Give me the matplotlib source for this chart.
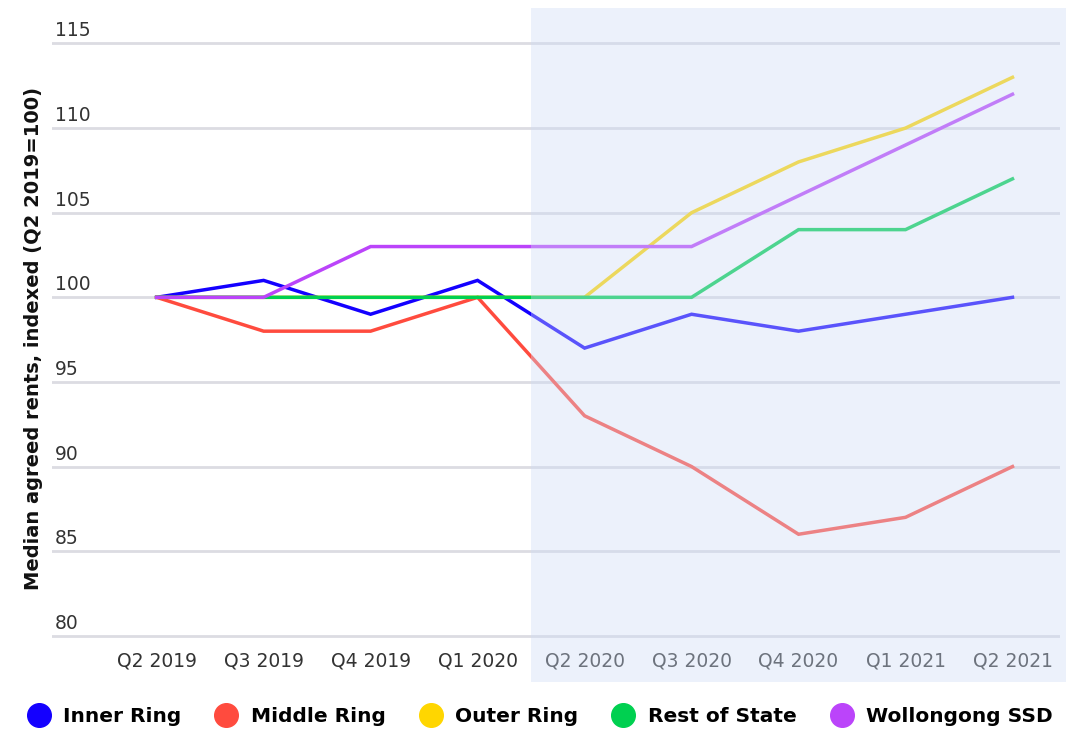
import matplotlib.pyplot as plt
from matplotlib.lines import Line2D
from matplotlib.patches import Rectangle
from matplotlib import transforms

quarters = ['Q2 2019', 'Q3 2019', 'Q4 2019', 'Q1 2020', 'Q2 2020',
            'Q3 2020', 'Q4 2020', 'Q1 2021', 'Q2 2021']
inner_ring = [100, 101, 99, 101, 97, 99, 98, 99, 100]
middle_ring = [100, 98, 98, 100, 93, 90, 86, 87, 90]
outer_ring = [100, 100, 100, 100, 100, 105, 108, 110, 113]
rest_of_state = [100, 100, 100, 100, 100, 100, 104, 104, 107]
wollongong = [100, 100, 103, 103, 103, 103, 106, 109, 112]
yticks = [80, 85, 90, 95, 100, 105, 110, 115]

series = [
    ('Inner Ring', inner_ring, '#1400ff'),
    ('Middle Ring', middle_ring, '#ff4b3e'),
    ('Outer Ring', outer_ring, '#ffd600'),
    ('Rest of State', rest_of_state, '#00d050'),
    ('Wollongong SSD', wollongong, '#bb44fa'),
]

fig = plt.figure(figsize=(10.79, 7.33), dpi=100)
ax = fig.add_axes([0.048, 0.128, 0.934, 0.815])

x = list(range(len(quarters)))
for name, vals, col in series:
    ax.plot(x, vals, color=col, lw=2.5, label=name, solid_joinstyle='miter')

ax.set_ylim(79.8, 115.1)
ax.set_xlim(-0.98, 8.44)
ax.set_yticks(yticks)
ax.yaxis.grid(True, color='#dcdce2', lw=2)
ax.set_axisbelow(True)
ax.set_yticklabels([])
ax.tick_params(axis='y', length=0)
for s in ax.spines.values():
    s.set_visible(False)

# y tick labels sit on top of the gridlines
off = transforms.offset_copy(ax.get_yaxis_transform(), fig=fig, x=3, y=3, units='dots')
for v in yticks:
    ax.text(0, v, str(v), transform=off, ha='left', va='bottom',
            fontsize=13.5, color='#333333')

ax.set_xticks(x)
ax.set_xticklabels(quarters, fontsize=13.5, color='#333333')
ax.tick_params(axis='x', length=0, pad=9)

fig.text(0.031, 0.538, 'Median agreed rents, indexed (Q2 2019=100)', rotation=90,
         ha='center', va='center', fontsize=14, fontweight='bold', color='#111111')

# forecast shading laid over everything
tr = transforms.blended_transform_factory(ax.transData, fig.transFigure)
fig.patches.append(Rectangle((3.5, 0.0696), 5.0, 0.919, transform=tr,
                             facecolor='#cddcf7', alpha=0.38, edgecolor='none',
                             zorder=10))

handles = [Line2D([], [], marker='o', ls='none', markersize=17,
                  markerfacecolor=c, markeredgecolor=c) for _, _, c in series]
fig.legend(handles, [n for n, _, _ in series], loc='center', ncol=5,
           bbox_to_anchor=(0.5, 0.022), frameon=False, handlelength=1.2,
           handletextpad=0.6, columnspacing=1.65,
           prop={'weight': 'bold', 'size': 14.5})

fig.savefig('out.png', dpi=100, facecolor='white')
